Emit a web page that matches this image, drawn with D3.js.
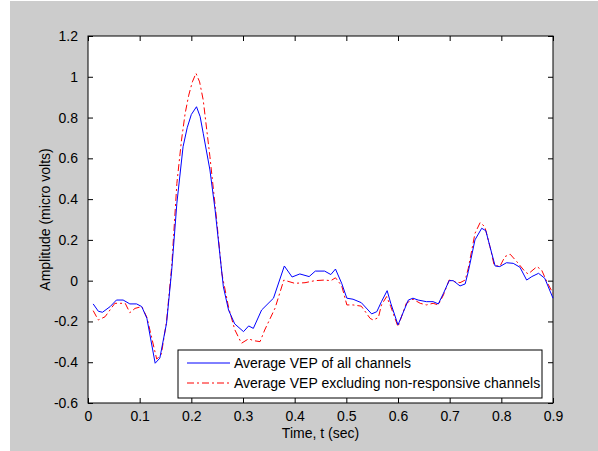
<!DOCTYPE html>
<html>
<head>
<meta charset="UTF-8">
<script src="https://d3js.org/d3.v7.min.js"></script>
<style>
  body { margin: 0; padding: 0; background: #fff; overflow: hidden; }
  svg text { font-family: "Liberation Sans", Arial, sans-serif; font-size: 14px; fill: #000; }
  .tick line { stroke: #000; }
  .domain { display: none; }
</style>
</head>
<body>
<div id="chart"></div>
<script>
// data
const tAll = [0.010, 0.020, 0.028, 0.043, 0.055, 0.068, 0.081, 0.094, 0.104, 0.114,
  0.130, 0.139, 0.152, 0.162, 0.172, 0.184, 0.192, 0.200, 0.210, 0.217, 0.223, 0.236,
  0.246, 0.255, 0.262, 0.272, 0.284, 0.301, 0.311, 0.320, 0.336, 0.359,
  0.380, 0.395, 0.410, 0.428, 0.440, 0.458, 0.470, 0.479, 0.491, 0.501,
  0.513, 0.529, 0.549, 0.559, 0.568, 0.579, 0.586, 0.600, 0.620, 0.629,
  0.639, 0.655, 0.668, 0.678, 0.688, 0.699, 0.707, 0.720, 0.730, 0.736,
  0.749, 0.762, 0.770, 0.778, 0.788, 0.797, 0.810, 0.823, 0.836, 0.849,
  0.859, 0.872, 0.884, 0.900];
const vAll = [-0.114, -0.150, -0.155, -0.127, -0.095, -0.095, -0.114, -0.114, -0.127, -0.185,
  -0.405, -0.380, -0.209, 0.050, 0.380, 0.657, 0.750, 0.815, 0.853, 0.805, 0.723, 0.543,
  0.347, 0.134, -0.030, -0.144, -0.212, -0.250, -0.222, -0.234, -0.144, -0.086,
  0.072, 0.018, 0.033, 0.020, 0.047, 0.047, 0.030, 0.057, -0.013, -0.086,
  -0.091, -0.108, -0.163, -0.152, -0.103, -0.049, -0.111, -0.217, -0.095, -0.086,
  -0.095, -0.103, -0.103, -0.114, -0.062, 0.000, 0.000, -0.026, -0.016, 0.044,
  0.200, 0.257, 0.245, 0.167, 0.072, 0.069, 0.088, 0.085, 0.066, 0.003,
  0.020, 0.036, 0.012, -0.086];

const tExcl = [0.010, 0.020, 0.033, 0.052, 0.072, 0.081, 0.091, 0.104, 0.114, 0.133,
  0.142, 0.152, 0.162, 0.172, 0.181, 0.188, 0.195, 0.202, 0.209, 0.216, 0.223, 0.236, 0.249,
  0.259, 0.272, 0.284, 0.297, 0.311, 0.320, 0.333, 0.342, 0.362, 0.379,
  0.400, 0.420, 0.439, 0.458, 0.470, 0.479, 0.491, 0.501, 0.513, 0.529,
  0.546, 0.552, 0.562, 0.568, 0.578, 0.586, 0.600, 0.616, 0.629, 0.643,
  0.655, 0.668, 0.678, 0.688, 0.699, 0.710, 0.720, 0.730, 0.736, 0.749,
  0.759, 0.768, 0.778, 0.786, 0.797, 0.807, 0.817, 0.830, 0.846, 0.852,
  0.869, 0.878, 0.888, 0.900];
const vExcl = [-0.147, -0.193, -0.177, -0.111, -0.111, -0.157, -0.136, -0.127, -0.180, -0.385,
  -0.360, -0.200, 0.070, 0.477, 0.690, 0.820, 0.910, 0.975, 1.017, 0.975, 0.886, 0.608, 0.298,
  0.036, -0.130, -0.240, -0.307, -0.285, -0.294, -0.299, -0.242, -0.135, 0.003,
  -0.013, -0.010, 0.000, 0.003, 0.000, 0.014, -0.025, -0.119, -0.119, -0.125,
  -0.185, -0.193, -0.181, -0.119, -0.078, -0.127, -0.226, -0.111, -0.091, -0.111,
  -0.119, -0.111, -0.119, -0.070, 0.003, -0.005, -0.010, 0.003, 0.060, 0.232,
  0.285, 0.265, 0.167, 0.077, 0.069, 0.118, 0.130, 0.093, 0.044, 0.033,
  0.069, 0.052, -0.005, -0.062];

const xTicks = [0, 0.1, 0.2, 0.3, 0.4, 0.5, 0.6, 0.7, 0.8, 0.9];
const yTicks = [-0.6, -0.4, -0.2, 0, 0.2, 0.4, 0.6, 0.8, 1, 1.2];
const legendLabels = ["Average VEP of all channels", "Average VEP excluding non-responsive channels"];

const W = 598, H = 451;
const plotL = 88, plotR = 553, plotT = 36, plotB = 403;

const svg = d3.select("#chart").append("svg")
  .attr("width", W).attr("height", H);

// figure background
svg.append("rect").attr("x", 10).attr("y", 1).attr("width", W - 10).attr("height", H - 1)
  .attr("fill", "#cccccc");

// axes area
svg.append("rect").attr("x", plotL).attr("y", plotT)
  .attr("width", plotR - plotL).attr("height", plotB - plotT)
  .attr("fill", "#fff");

const x = d3.scaleLinear().domain([0, 0.9]).range([plotL, plotR]);
const y = d3.scaleLinear().domain([-0.6, 1.2]).range([plotB, plotT]);

const fmt = d => String(+d.toFixed(1));

// ticks on all four sides, pointing inward
svg.append("g").attr("transform", `translate(0,${plotB})`)
  .call(d3.axisBottom(x).tickValues(xTicks).tickSize(-5).tickPadding(8).tickFormat(fmt))
  .call(g => g.selectAll("text").attr("dy", "0.71em"));
svg.append("g").attr("transform", `translate(0,${plotT})`)
  .call(d3.axisTop(x).tickValues(xTicks).tickSize(-5).tickFormat(""));
svg.append("g").attr("transform", `translate(${plotL},0)`)
  .call(d3.axisLeft(y).tickValues(yTicks).tickSize(-5).tickPadding(10).tickFormat(fmt));
svg.append("g").attr("transform", `translate(${plotR},0)`)
  .call(d3.axisRight(y).tickValues(yTicks).tickSize(-5).tickFormat(""));

svg.selectAll(".tick text").attr("font-size", 14).attr("font-family", "Liberation Sans, Arial, sans-serif");

// box
svg.append("rect").attr("x", plotL).attr("y", plotT)
  .attr("width", plotR - plotL).attr("height", plotB - plotT)
  .attr("fill", "none").attr("stroke", "#000").attr("stroke-width", 1);

const line = d3.line().x(d => x(d[0])).y(d => y(d[1]));

svg.append("path")
  .datum(d3.zip(tExcl, vExcl))
  .attr("fill", "none").attr("stroke", "#ff0000").attr("stroke-width", 1)
  .attr("stroke-dasharray", "7,3,2,3")
  .attr("d", line);

svg.append("path")
  .datum(d3.zip(tAll, vAll))
  .attr("fill", "none").attr("stroke", "#0000ff").attr("stroke-width", 1)
  .attr("d", line);

// axis labels
svg.append("text").attr("x", (plotL + plotR) / 2).attr("y", 438)
  .attr("text-anchor", "middle").text("Time, t (sec)");
svg.append("text")
  .attr("transform", `translate(50,${(plotT + plotB) / 2}) rotate(-90)`)
  .attr("text-anchor", "middle").text("Amplitude (micro volts)");

// legend
const lg = svg.append("g");
lg.append("rect").attr("x", 178).attr("y", 350).attr("width", 364).attr("height", 48)
  .attr("fill", "#fff").attr("stroke", "#000").attr("stroke-width", 1);
const styles = [{c: "#0000ff", dash: null}, {c: "#ff0000", dash: "7,3,2,3"}];
legendLabels.forEach((lab, i) => {
  const cy = 363 + i * 20;
  lg.append("line").attr("x1", 187).attr("x2", 230).attr("y1", cy).attr("y2", cy)
    .attr("stroke", styles[i].c).attr("stroke-width", 1)
    .attr("stroke-dasharray", styles[i].dash);
  lg.append("text").attr("x", 234).attr("y", cy + 5).text(lab);
});
</script>
</body>
</html>
